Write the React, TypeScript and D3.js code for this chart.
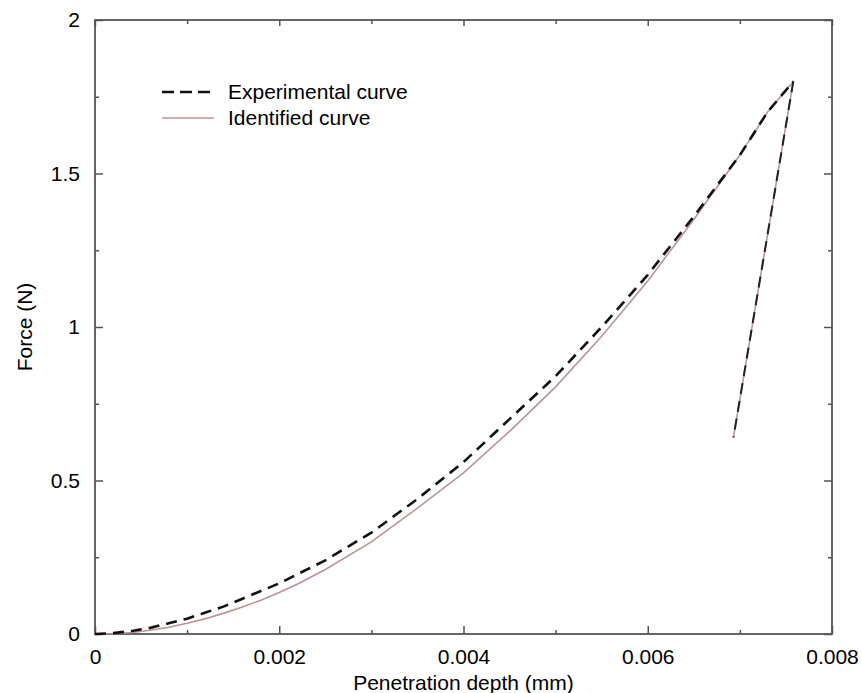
import React, { useEffect, useRef } from "react";
import * as d3 from "d3";

// loading branch (mm, N)
const depthLoad = [0, 0.0002, 0.0004, 0.0006, 0.0008, 0.001, 0.0012, 0.0014, 0.0016, 0.0018, 0.002, 0.0022, 0.0025, 0.003, 0.0035, 0.004, 0.0045, 0.005, 0.0055, 0.006, 0.0065, 0.007, 0.0073, 0.00758];
const forceExperimental = [0, 0.003, 0.01, 0.02, 0.035, 0.05, 0.07, 0.09, 0.115, 0.14, 0.165, 0.195, 0.24, 0.33, 0.44, 0.56, 0.7, 0.84, 1.0, 1.17, 1.36, 1.56, 1.7, 1.8];
const forceIdentified = [0, 0.001, 0.005, 0.012, 0.022, 0.035, 0.05, 0.068, 0.088, 0.11, 0.135, 0.163, 0.21, 0.3, 0.41, 0.525, 0.66, 0.805, 0.97, 1.15, 1.35, 1.56, 1.7, 1.8];

// unloading branch
const depthUnload = [0.00758, 0.00693];
const forceUnload = [1.8, 0.64];

const xTicks = [0, 0.002, 0.004, 0.006, 0.008];
const xMinor = [0.001, 0.003, 0.005, 0.007];
const yTicks = [0, 0.5, 1, 1.5, 2];
const yMinor = [0.25, 0.75, 1.25, 1.75];

const W = 861;
const H = 693;
const margin = { top: 20, right: 29, bottom: 59, left: 95 };
const FONT = "'Liberation Sans', Arial, sans-serif";
const FS = 21;

const App = () => {
  const svgRef = useRef(null);

  useEffect(() => {
    const svg = d3.select(svgRef.current);
    svg.selectAll("*").remove();

    const width = W - margin.left - margin.right,
      height = H - margin.top - margin.bottom;

    const x = d3.scaleLinear().domain([0, 0.008]).range([0, width]);
    const y = d3.scaleLinear().domain([0, 2]).range([height, 0]);

    const g = svg
      .append("g")
      .attr("transform", "translate(" + margin.left + "," + margin.top + ")");

    const axisColor = "#555";

    // axes, ticks point inward
    const bottom = g
      .append("g")
      .attr("transform", "translate(0," + height + ")")
      .call(d3.axisBottom(x).tickValues(xTicks).tickSize(-8).tickPadding(16).tickFormat(d3.format("")));
    bottom.selectAll("text").attr("font-size", FS).attr("dy", "0.68em");

    g.append("g")
      .attr("transform", "translate(0," + height + ")")
      .call(d3.axisBottom(x).tickValues(xMinor).tickSize(-4).tickFormat(() => ""));

    const left = g
      .append("g")
      .call(d3.axisLeft(y).tickValues(yTicks).tickSize(-8).tickPadding(15).tickFormat(d3.format("")));
    left.selectAll("text").attr("font-size", FS);

    g.append("g").call(d3.axisLeft(y).tickValues(yMinor).tickSize(-4).tickFormat(() => ""));

    g.append("g").call(d3.axisTop(x).tickValues(xTicks).tickSize(-6).tickFormat(() => ""));
    g.append("g").call(d3.axisTop(x).tickValues(xMinor).tickSize(-4).tickFormat(() => ""));
    g.append("g")
      .attr("transform", "translate(" + width + ",0)")
      .call(d3.axisRight(y).tickValues(yTicks).tickSize(-8).tickFormat(() => ""));
    g.append("g")
      .attr("transform", "translate(" + width + ",0)")
      .call(d3.axisRight(y).tickValues(yMinor).tickSize(-4).tickFormat(() => ""));

    g.selectAll(".domain").remove();
    g.selectAll(".tick line").attr("stroke", axisColor).attr("stroke-width", 1.5);
    g.selectAll(".tick text").attr("font-family", FONT).attr("fill", "#000");

    g.append("rect")
      .attr("width", width)
      .attr("height", height)
      .attr("fill", "none")
      .attr("stroke", axisColor)
      .attr("stroke-width", 1.8);

    const line = d3
      .line()
      .x((d) => x(d[0]))
      .y((d) => y(d[1]));

    const identified = depthLoad.map((d, i) => [d, forceIdentified[i]]);
    const experimental = depthLoad.map((d, i) => [d, forceExperimental[i]]);
    const unload = depthUnload.map((d, i) => [d, forceUnload[i]]);

    const solidColor = "#b99696";
    const dash = "11,7";

    g.append("path").attr("d", line(identified)).attr("fill", "none").attr("stroke", solidColor).attr("stroke-width", 1.6);
    g.append("path").attr("d", line(unload)).attr("fill", "none").attr("stroke", solidColor).attr("stroke-width", 1.6);
    g.append("path")
      .attr("d", line(experimental))
      .attr("fill", "none")
      .attr("stroke", "#111")
      .attr("stroke-width", 2.6)
      .attr("stroke-dasharray", dash);
    g.append("path")
      .attr("d", line(unload))
      .attr("fill", "none")
      .attr("stroke", "#222")
      .attr("stroke-width", 2)
      .attr("stroke-dasharray", dash);

    // legend
    const legend = svg.append("g");
    legend.append("line").attr("x1", 162).attr("x2", 214).attr("y1", 92).attr("y2", 92)
      .attr("stroke", "#111").attr("stroke-width", 2.6).attr("stroke-dasharray", "12,6");
    legend.append("line").attr("x1", 162).attr("x2", 214).attr("y1", 118).attr("y2", 118)
      .attr("stroke", solidColor).attr("stroke-width", 1.6);
    legend.append("text").attr("x", 228).attr("y", 92).attr("dy", "0.35em").attr("font-size", FS)
      .attr("font-family", FONT).attr("fill", "#000").text("Experimental curve");
    legend.append("text").attr("x", 228).attr("y", 118).attr("dy", "0.35em").attr("font-size", FS)
      .attr("font-family", FONT).attr("fill", "#000").text("Identified curve");

    // axis titles
    svg.append("text")
      .attr("x", margin.left + width / 2)
      .attr("y", 683)
      .attr("dy", "0.35em")
      .attr("text-anchor", "middle")
      .attr("font-size", FS)
      .attr("font-family", FONT)
      .attr("fill", "#000")
      .text("Penetration depth (mm)");

    svg.append("text")
      .attr("transform", "translate(25," + (margin.top + height / 2) + ") rotate(-90)")
      .attr("dy", "0.35em")
      .attr("text-anchor", "middle")
      .attr("font-size", FS)
      .attr("font-family", FONT)
      .attr("fill", "#000")
      .text("Force (N)");
  }, []);

  return (
    <div style={{ position: "absolute", left: 0, top: 0 }}>
      <svg ref={svgRef} width={W} height={H} style={{ display: "block", background: "#fff" }}></svg>
    </div>
  );
};

export default App;
